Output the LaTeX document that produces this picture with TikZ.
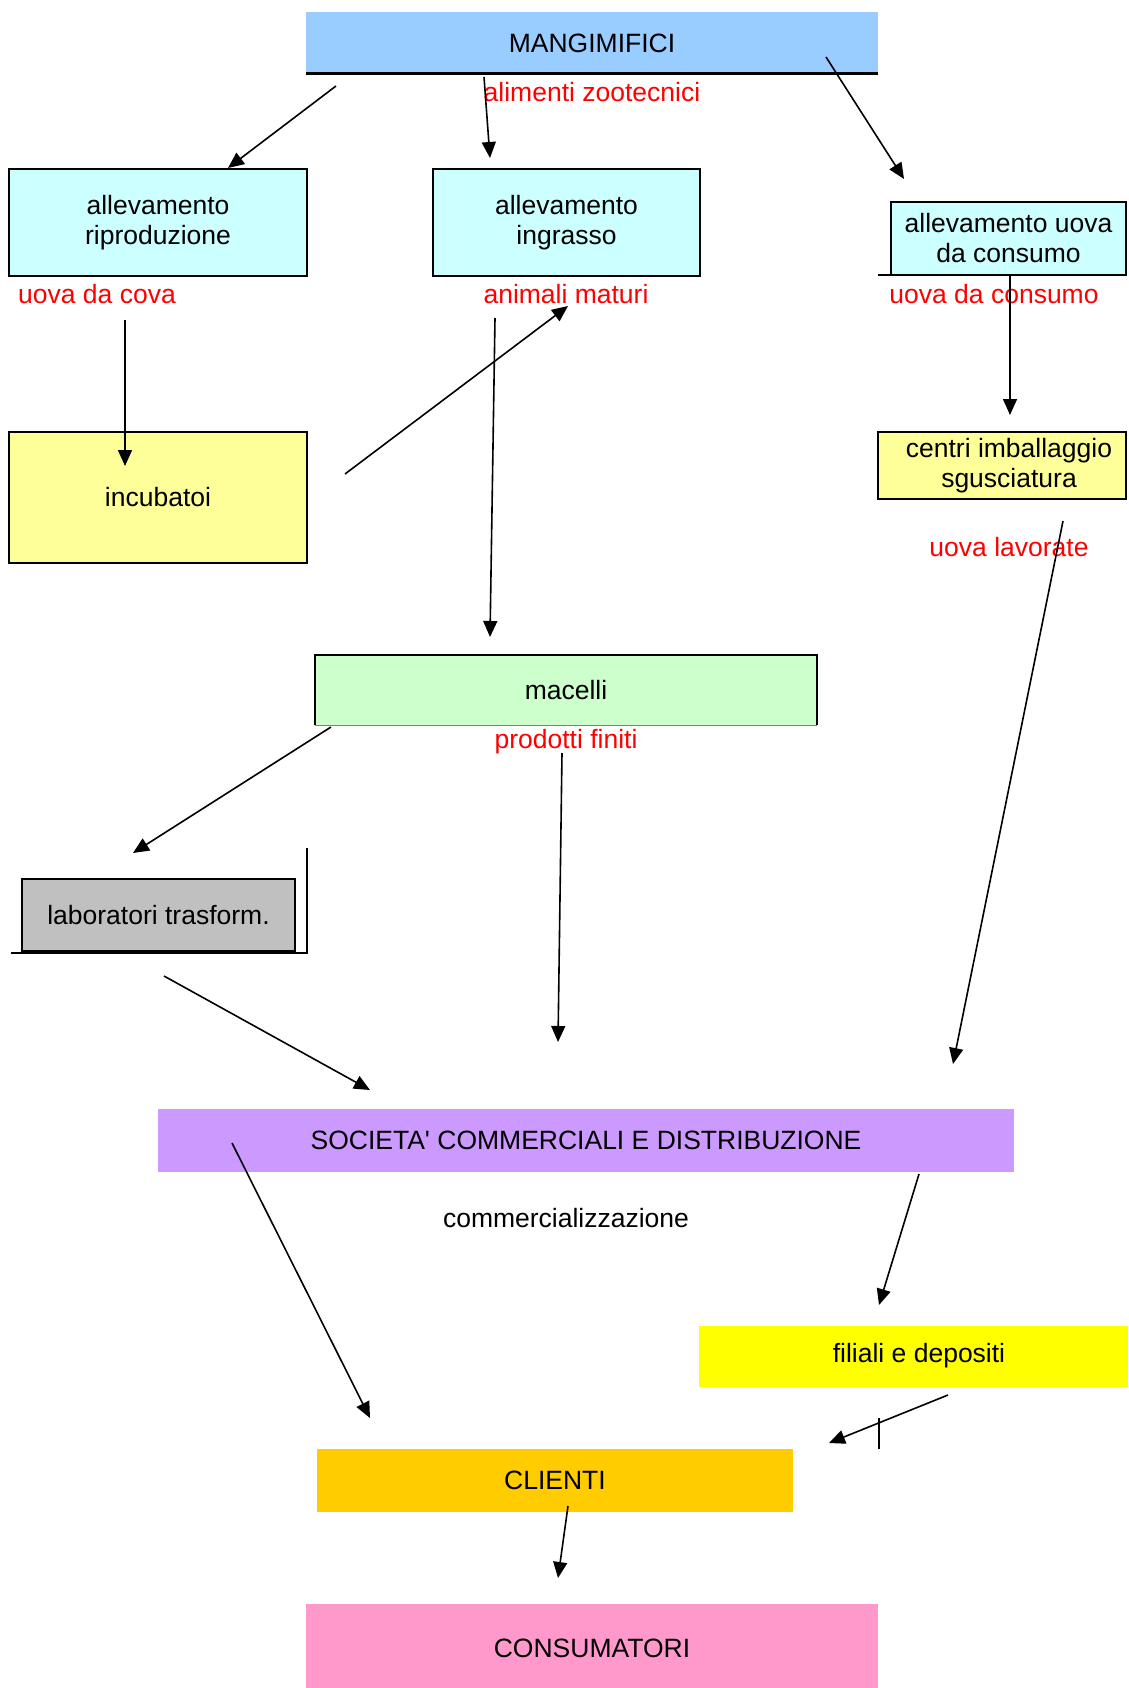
\documentclass[tikz,border=0pt]{standalone}
\usepackage{fontspec}
\setmainfont{Liberation Sans}
\usetikzlibrary{arrows.meta}
\definecolor{cmang}{HTML}{99CCFF}
\definecolor{callev}{HTML}{CCFFFF}
\definecolor{cyel}{HTML}{FFFF99}
\definecolor{cmac}{HTML}{CCFFCC}
\definecolor{clab}{HTML}{C0C0C0}
\definecolor{csoc}{HTML}{CC99FF}
\definecolor{cfil}{HTML}{FFFF00}
\definecolor{ccli}{HTML}{FFCC00}
\definecolor{ccon}{HTML}{FF99CC}
\begin{document}
\begin{tikzpicture}[x=1pt,y=-1pt,
  font=\fontsize{26.5}{30}\selectfont,
  box/.style={rectangle, inner sep=0pt, outer sep=0pt, anchor=north west},
  bord/.style={draw=black, line width=2.4pt},
  txt/.style={align=center, inner sep=0pt},
  lbl/.style={text=red, inner sep=0pt},
  arr/.style={line width=1.6pt, -{Triangle[length=16pt,width=14pt]}},
  plain/.style={line width=1.6pt}]
\useasboundingbox (0,0) rectangle (1128,1688);

% boxes
\node[box, fill=cmang, minimum width=572pt, minimum height=62pt] (mang) at (306,12) {};
\draw[line width=3pt] (mang.south west) -- (mang.south east);
\node[txt] (mangT) at (592,43) {MANGIMIFICI};

\node[box, bord, fill=callev, minimum width=298pt, minimum height=107pt] (rip) at (9,169) {};
\node[txt] (ripT) at (rip.center) {allevamento\\riproduzione};

\node[box, bord, fill=callev, minimum width=267pt, minimum height=107pt] (ing) at (433,169) {};
\node[txt] (ingT) at (ing.center) {allevamento\\ingrasso};

\node[box, bord, fill=callev, minimum width=235pt, minimum height=73pt] (uov) at (891,202) {};
\coordinate (uovL) at (878,275);
\draw[line width=2.4pt] (uovL) -- (uovL -| uov.east);
\node[txt] (uovT) at (uov.center) {allevamento uova\\da consumo};

\node[box, bord, fill=cyel, minimum width=298pt, minimum height=131pt] (inc) at (9,432) {};
\node[txt] (incT) at (inc.center) {incubatoi};

\node[box, bord, fill=cyel, minimum width=248pt, minimum height=67pt] (cen) at (878,432) {};
\node[txt] (cenT) at (1009,466) {centri imballaggio\\sgusciatura};

\node[box, fill=cmac, minimum width=502pt, minimum height=70pt] (mac) at (315,655) {};
\draw[line width=2.4pt] (mac.south west) -- (mac.north west) -- (mac.north east) -- (mac.south east);
\draw[gray, line width=1pt] (mac.south west) -- (mac.south east);
\node[txt] (macT) at (mac.center) {macelli};

\coordinate (labS1) at (307,848);
\coordinate (labS2) at (307,953);
\coordinate (labS3) at (11,953);
\draw[line width=2.4pt] (labS1) -- (labS2) -- (labS3);
\node[box, bord, fill=clab, minimum width=273pt, minimum height=72pt] (lab) at (22,879) {};
\node[txt] (labT) at (lab.center) {laboratori trasform.};

\node[box, fill=csoc, minimum width=856pt, minimum height=63pt] (soc) at (158,1109) {};
\node[txt] (socT) at (soc.center) {SOCIETA\textquotesingle{} COMMERCIALI E DISTRIBUZIONE};

\node[box, fill=cfil, minimum width=429pt, minimum height=61pt] (fil) at (699,1326) {};
\node[txt] (filT) at (919,1356) {filiali e depositi};

\node[box, fill=ccli, minimum width=476pt, minimum height=63pt] (cli) at (317,1449) {};
\node[txt] (cliT) at (cli.center) {CLIENTI};

\node[box, fill=ccon, minimum width=572pt, minimum height=84pt] (con) at (306,1604) {};
\node[txt] (conT) at (592,1648) {CONSUMATORI};

% labels
\node[lbl] (l1) at (592,92) {alimenti zootecnici};
\node[lbl] (l2) at (97,294) {uova da cova};
\node[lbl] (l3) at (566,294) {animali maturi};
\node[lbl] (l4) at (994,294) {uova da consumo};
\node[lbl] (l5) at (1009,547) {uova lavorate};
\node[lbl] (l6) at (566,742) {prodotti finiti};
\node[inner sep=0pt] (l7) at (566,1218) {commercializzazione};

% arrow end points
\coordinate (a1) at (336,86);   \coordinate (a2) at (228,168);
\coordinate (b1) at (484,77);   \coordinate (b2) at (490,158);
\coordinate (c1) at (826,57);   \coordinate (c2) at (904,179);
\coordinate (d1) at (125,320);  \coordinate (d2) at (125,466);
\coordinate (e1) at (345,474);  \coordinate (e2) at (568,306);
\coordinate (f1) at (495,318);  \coordinate (f2) at (490,637);
\coordinate (g1) at (1010,276); \coordinate (g2) at (1010,415);
\coordinate (h1) at (1063,521); \coordinate (h2) at (953,1064);
\coordinate (i1) at (331,727);  \coordinate (i2) at (133,853);
\coordinate (j1) at (562,753);  \coordinate (j2) at (558,1042);
\coordinate (k1) at (164,976);  \coordinate (k2) at (370,1090);
\coordinate (m1) at (232,1143); \coordinate (m2) at (370,1418);
\coordinate (n1) at (919,1174); \coordinate (n2) at (879,1305);
\coordinate (p1) at (948,1395); \coordinate (p2) at (829,1443);
\coordinate (t1) at (879,1418); \coordinate (t2) at (879,1449);
\coordinate (q1) at (568,1506); \coordinate (q2) at (558,1578);

\draw[arr] (a1) -- (a2);
\draw[arr] (b1) -- (b2);
\draw[arr] (c1) -- (c2);
\draw[arr] (d1) -- (d2);
\draw[arr] (e1) -- (e2);
\draw[arr] (f1) -- (f2);
\draw[arr] (g1) -- (g2);
\draw[arr] (h1) -- (h2);
\draw[arr] (i1) -- (i2);
\draw[arr] (j1) -- (j2);
\draw[arr] (k1) -- (k2);
\draw[arr] (m1) -- (m2);
\draw[arr] (n1) -- (n2);
\draw[arr] (p1) -- (p2);
\draw[line width=2.4pt] (t1) -- (t2);
\draw[arr] (q1) -- (q2);
\end{tikzpicture}
\end{document}
